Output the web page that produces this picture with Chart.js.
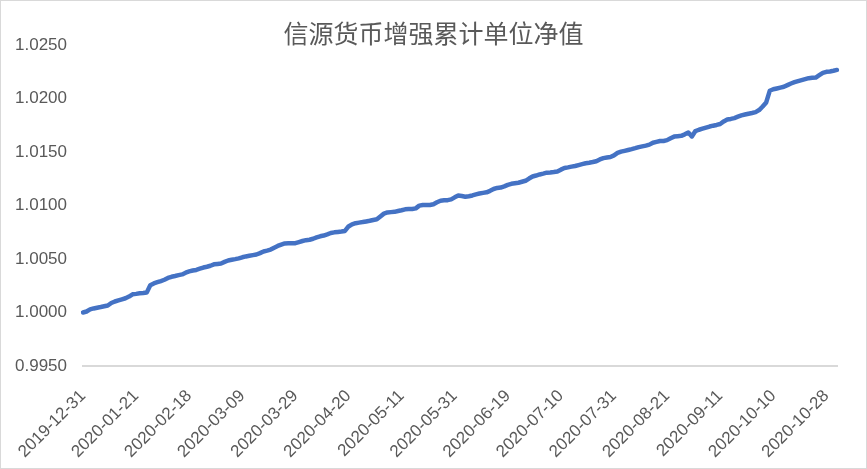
<!DOCTYPE html>
<html>
<head>
<meta charset="utf-8">
<title>信源货币增强累计单位净值</title>
<script src="https://cdn.jsdelivr.net/npm/chart.js@4.4.1/dist/chart.umd.min.js"></script>
<style>
  html, body { margin: 0; padding: 0; background: #fff; }
  #wrap { width: 867px; height: 469px; }
</style>
</head>
<body>
<div id="wrap"><canvas id="navChart" width="867" height="469"></canvas></div>
<script>
// --- data ---
const chartTitle = '信源货币增强累计单位净值';

const dates = [
  '2019-12-31',
  '2020-01-01', '2020-01-02', '2020-01-03', '2020-01-06', '2020-01-07', '2020-01-08', '2020-01-09', '2020-01-10',
  '2020-01-13', '2020-01-14', '2020-01-15', '2020-01-16', '2020-01-17', '2020-01-20', '2020-01-21',
  '2020-01-22', '2020-01-23', '2020-02-02', '2020-02-03', '2020-02-04', '2020-02-05', '2020-02-06', '2020-02-07',
  '2020-02-10', '2020-02-11', '2020-02-12', '2020-02-13', '2020-02-14', '2020-02-17', '2020-02-18',
  '2020-02-19', '2020-02-20', '2020-02-21', '2020-02-24', '2020-02-25', '2020-02-26', '2020-02-27', '2020-02-28',
  '2020-02-29', '2020-03-02', '2020-03-03', '2020-03-04', '2020-03-05', '2020-03-06', '2020-03-09',
  '2020-03-10', '2020-03-11', '2020-03-12', '2020-03-13', '2020-03-16', '2020-03-17', '2020-03-18', '2020-03-19',
  '2020-03-20', '2020-03-23', '2020-03-24', '2020-03-25', '2020-03-26', '2020-03-27', '2020-03-29',
  '2020-03-30', '2020-03-31', '2020-04-01', '2020-04-02', '2020-04-03', '2020-04-07', '2020-04-08', '2020-04-09',
  '2020-04-10', '2020-04-13', '2020-04-14', '2020-04-15', '2020-04-16', '2020-04-17', '2020-04-20',
  '2020-04-21', '2020-04-22', '2020-04-23', '2020-04-24', '2020-04-26', '2020-04-27', '2020-04-28', '2020-04-29',
  '2020-04-30', '2020-05-05', '2020-05-06', '2020-05-07', '2020-05-08', '2020-05-09', '2020-05-11',
  '2020-05-12', '2020-05-13', '2020-05-14', '2020-05-15', '2020-05-18', '2020-05-19', '2020-05-20', '2020-05-21',
  '2020-05-22', '2020-05-25', '2020-05-26', '2020-05-27', '2020-05-28', '2020-05-29', '2020-05-31',
  '2020-06-01', '2020-06-02', '2020-06-03', '2020-06-04', '2020-06-05', '2020-06-08', '2020-06-09', '2020-06-10',
  '2020-06-11', '2020-06-12', '2020-06-15', '2020-06-16', '2020-06-17', '2020-06-18', '2020-06-19',
  '2020-06-22', '2020-06-23', '2020-06-24', '2020-06-27', '2020-06-28', '2020-06-29', '2020-06-30', '2020-07-01',
  '2020-07-02', '2020-07-03', '2020-07-06', '2020-07-07', '2020-07-08', '2020-07-09', '2020-07-10',
  '2020-07-13', '2020-07-14', '2020-07-15', '2020-07-16', '2020-07-17', '2020-07-20', '2020-07-21', '2020-07-22',
  '2020-07-23', '2020-07-24', '2020-07-27', '2020-07-28', '2020-07-29', '2020-07-30', '2020-07-31',
  '2020-08-03', '2020-08-04', '2020-08-05', '2020-08-06', '2020-08-07', '2020-08-10', '2020-08-11', '2020-08-12',
  '2020-08-13', '2020-08-14', '2020-08-17', '2020-08-18', '2020-08-19', '2020-08-20', '2020-08-21',
  '2020-08-24', '2020-08-25', '2020-08-26', '2020-08-27', '2020-08-28', '2020-08-31', '2020-09-01', '2020-09-02',
  '2020-09-03', '2020-09-04', '2020-09-07', '2020-09-08', '2020-09-09', '2020-09-10', '2020-09-11',
  '2020-09-14', '2020-09-15', '2020-09-16', '2020-09-17', '2020-09-18', '2020-09-21', '2020-09-22', '2020-09-23',
  '2020-09-24', '2020-09-25', '2020-09-28', '2020-09-29', '2020-09-30', '2020-10-09', '2020-10-10',
  '2020-10-11', '2020-10-12', '2020-10-13', '2020-10-14', '2020-10-15', '2020-10-16', '2020-10-18', '2020-10-19',
  '2020-10-20', '2020-10-21', '2020-10-22', '2020-10-23', '2020-10-26', '2020-10-27', '2020-10-28',
  '2020-10-29', '2020-10-30', '2020-11-02'
];

const nav = [
  1.00000,
  1.00009, 1.00029, 1.00038, 1.00045, 1.00051, 1.00058, 1.00065, 1.00089,
  1.00103, 1.00113, 1.00123, 1.00133, 1.00149, 1.00170, 1.00174,
  1.00179, 1.00182, 1.00186, 1.00255, 1.00272, 1.00283, 1.00294, 1.00306,
  1.00323, 1.00334, 1.00341, 1.00349, 1.00356, 1.00372, 1.00384,
  1.00392, 1.00398, 1.00409, 1.00420, 1.00428, 1.00437, 1.00450, 1.00454,
  1.00458, 1.00473, 1.00486, 1.00493, 1.00499, 1.00506, 1.00516,
  1.00524, 1.00530, 1.00536, 1.00542, 1.00555, 1.00570, 1.00578, 1.00588,
  1.00606, 1.00622, 1.00635, 1.00646, 1.00647, 1.00647, 1.00648,
  1.00658, 1.00668, 1.00676, 1.00680, 1.00689, 1.00702, 1.00712, 1.00719,
  1.00730, 1.00743, 1.00749, 1.00753, 1.00757, 1.00762, 1.00804,
  1.00824, 1.00835, 1.00840, 1.00845, 1.00851, 1.00857, 1.00865, 1.00871,
  1.00898, 1.00924, 1.00935, 1.00938, 1.00941, 1.00949, 1.00956,
  1.00964, 1.00967, 1.00967, 1.00973, 1.00999, 1.01005, 1.01005, 1.01005,
  1.01012, 1.01030, 1.01045, 1.01048, 1.01050, 1.01057, 1.01076,
  1.01093, 1.01088, 1.01082, 1.01087, 1.01094, 1.01104, 1.01112, 1.01118,
  1.01123, 1.01137, 1.01154, 1.01164, 1.01168, 1.01179, 1.01193,
  1.01203, 1.01208, 1.01213, 1.01222, 1.01231, 1.01252, 1.01271, 1.01280,
  1.01290, 1.01298, 1.01307, 1.01309, 1.01313, 1.01318, 1.01335,
  1.01350, 1.01356, 1.01363, 1.01369, 1.01378, 1.01387, 1.01395, 1.01400,
  1.01406, 1.01414, 1.01431, 1.01443, 1.01449, 1.01453, 1.01468,
  1.01491, 1.01503, 1.01511, 1.01519, 1.01527, 1.01536, 1.01546, 1.01553,
  1.01560, 1.01569, 1.01587, 1.01595, 1.01603, 1.01603, 1.01611,
  1.01629, 1.01644, 1.01648, 1.01651, 1.01665, 1.01682, 1.01645, 1.01696,
  1.01708, 1.01718, 1.01728, 1.01738, 1.01746, 1.01753, 1.01762,
  1.01786, 1.01803, 1.01809, 1.01817, 1.01830, 1.01842, 1.01850, 1.01858,
  1.01865, 1.01873, 1.01892, 1.01925, 1.01963, 1.02072, 1.02086,
  1.02094, 1.02102, 1.02110, 1.02125, 1.02140, 1.02153, 1.02163, 1.02172,
  1.02181, 1.02190, 1.02194, 1.02196, 1.02218, 1.02239, 1.02249,
  1.02253, 1.02259, 1.02267
];

// dates that get a label on the x axis
const tickDates = [
  '2019-12-31', '2020-01-21', '2020-02-18', '2020-03-09', '2020-03-29',
  '2020-04-20', '2020-05-11', '2020-05-31', '2020-06-19', '2020-07-10',
  '2020-07-31', '2020-08-21', '2020-09-11', '2020-10-10', '2020-10-28'
];

const yMin = 0.995;
const yMax = 1.025;
const yStep = 0.005;

// --- chart ---
const textColor = '#595959';
const tickFont = { family: "'Liberation Sans', Arial, sans-serif", size: 17 };

// white background + thin grey frame like the Excel chart area
const frame = {
  id: 'frame',
  beforeDraw(chart) {
    const c = chart.ctx;
    c.save();
    c.fillStyle = '#ffffff';
    c.fillRect(0, 0, chart.width, chart.height);
    c.restore();
  },
  afterDraw(chart) {
    const c = chart.ctx;
    c.save();
    c.strokeStyle = '#d9d9d9';
    c.lineWidth = 1;
    c.strokeRect(0.5, 0.5, chart.width - 1, chart.height - 1);
    c.restore();
  }
};

new Chart(document.getElementById('navChart'), {
  type: 'line',
  data: {
    labels: dates,
    datasets: [{
      label: chartTitle,
      data: nav,
      borderColor: '#4472c4',
      backgroundColor: '#4472c4',
      borderWidth: 4.5,
      pointRadius: 0,
      tension: 0,
      borderCapStyle: 'round',
      borderJoinStyle: 'round',
      fill: false
    }]
  },
  options: {
    responsive: false,
    animation: false,
    devicePixelRatio: 1,
    layout: { padding: 0 },
    plugins: {
      legend: { display: false },
      tooltip: { enabled: false },
      title: {
        display: true,
        text: chartTitle,
        color: textColor,
        font: { family: "'Noto Sans CJK SC', sans-serif", size: 25, weight: 'normal' },
        padding: { top: 18, bottom: -3 }
      }
    },
    scales: {
      x: {
        offset: false,
        grid: { display: false, drawTicks: false },
        border: { display: true, color: '#d9d9d9', width: 2 },
        afterFit: function(scale) {
          // keep the rotated first label from pushing the plot right
          scale.paddingLeft = 0;
          scale.paddingRight = 30;
          scale.height = 103;
        },
        ticks: {
          autoSkip: false,
          minRotation: 45,
          maxRotation: 45,
          padding: 20,
          color: textColor,
          font: tickFont,
          callback: function(val) {
            const d = this.getLabelForValue(val);
            return tickDates.includes(d) ? d : '';
          }
        }
      },
      y: {
        min: yMin,
        max: yMax,
        grid: { display: false, drawTicks: false },
        border: { display: false },
        afterFit: function(scale) {
          scale.width = 83;
        },
        ticks: {
          stepSize: yStep,
          padding: 16,
          color: textColor,
          font: tickFont,
          callback: v => v.toFixed(4)
        }
      }
    }
  },
  plugins: [frame]
});
</script>
</body>
</html>
